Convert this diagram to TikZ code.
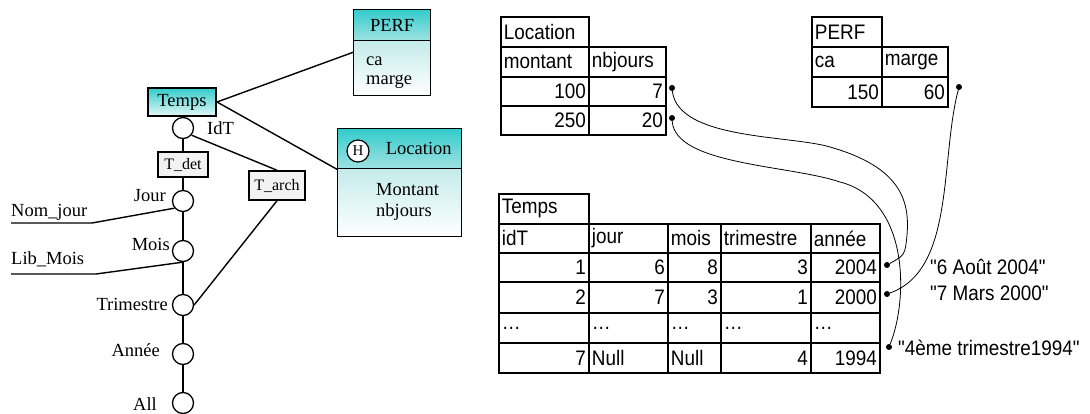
\documentclass[tikz,border=0pt]{standalone}
\usepackage{fontspec}
\setmainfont{Liberation Serif}
\newfontfamily\tabfont[FakeStretch=0.9]{Liberation Sans}
\newcommand\tabtxt{\tabfont\fontsize{21}{22}\selectfont}
\newcommand\lefttxt{\fontsize{18.5}{20}\selectfont}
\newcommand\smalltxt{\fontsize{16}{18}\selectfont}
\definecolor{tealA}{RGB}{51,204,204}
\definecolor{tealB}{RGB}{160,226,226}
\definecolor{tealC}{RGB}{196,235,235}
\definecolor{tealE}{RGB}{228,247,247}
\definecolor{boxgray}{RGB}{242,242,242}
\begin{document}
\begin{tikzpicture}[x=1pt,y=-1pt,
  tcell/.style={draw, line width=1.8pt, anchor=north west, inner xsep=3pt, inner ysep=0pt, minimum height=#1, font=\tabtxt},
  lft/.style={align=left, text width=#1},
  rgt/.style={align=right, text width=#1},
  dotn/.style={circle, fill=black, inner sep=0pt, minimum size=6pt},
  curve/.style={line width=0.8pt},
  ln/.style={line width=1.4pt},
  lev/.style={circle, draw, line width=1.3pt, minimum size=21pt, inner sep=0pt, fill=white},
  gbox/.style={draw, line width=1.5pt, fill=boxgray, inner sep=0pt, font=\smalltxt},
  lbl/.style={inner sep=0pt, font=\lefttxt},
  rlbl/.style={inner sep=0pt, font=\tabtxt, anchor=base west},
  ebox/.style={draw, line width=1.3pt, inner sep=0pt, font=\lefttxt},
]
\useasboundingbox (0,0) rectangle (1090,414);

% ---------------- left diagram ----------------
\node[ebox, line width=2pt, minimum width=68pt, minimum height=28pt, top color=tealA, bottom color=tealE] (temps) at (182,102) {Temps};

\node[ebox, anchor=north west, minimum width=77pt, minimum height=31pt, top color=tealA, bottom color=tealB] (perfh) at (353,9) {PERF};
\node[ebox, anchor=north west, minimum width=77pt, minimum height=55pt, top color=tealC, bottom color=white] (perfb) at (353,40) {};
\node[lbl, anchor=base west] (pca) at (366,66) {ca};
\node[lbl, anchor=base west] (pmarge) at (366,85) {marge};

\node[ebox, anchor=north west, minimum height=40pt, top color=tealA, bottom color=tealB, align=right, text width=104pt, inner xsep=10pt] (loch) at (337,128) {Location};
\node[ebox, anchor=north west, minimum width=124pt, minimum height=68pt, top color=tealC, bottom color=white] (locb) at (337,168) {};
\node[lbl, anchor=base west] (lmont) at (376,196) {Montant};
\node[lbl, anchor=base west] (lnbj) at (376,217) {nbjours};
\node[circle, draw, line width=1.2pt, fill=white, inner sep=0pt, minimum size=22pt, font=\fontsize{15}{16}\selectfont] (hc) at (358,151) {H};

\node[lev] (idt) at (183,128) {};
\node[gbox, minimum width=50pt, minimum height=25pt] (tdet) at (183,164.5) {T\_det};
\node[gbox, minimum width=56pt, minimum height=29pt] (tarch) at (277,185.5) {T\_arch};
\node[lev] (jour) at (183,201) {};
\node[lev] (mois) at (183,251) {};
\node[lev] (tri) at (183,305) {};
\node[lev] (ann) at (183,354) {};
\node[lev] (all) at (183,403) {};

\node[lbl, anchor=base west] (lidt) at (207,135) {IdT};
\node[lbl, anchor=base east] (ljour) at (166,202) {Jour};
\node[lbl, anchor=base east] (lmois) at (170,251) {Mois};
\node[lbl, anchor=base east] (ltri) at (168,310) {Trimestre};
\node[lbl, anchor=base east] (lann) at (160,356) {Année};
\node[lbl, anchor=base east] (lall) at (157,410) {All};
\node[lbl, anchor=base west] (lnj) at (11,217) {Nom\_jour};
\node[lbl, anchor=base west] (llm) at (11,265) {Lib\_Mois};

\coordinate (nj0) at (11,223);
\coordinate (nj1) at (92,223);
\coordinate (lm0) at (11,274);
\coordinate (lm1) at (96,274);

\draw[ln] (temps.east) -- (perfb.158);
\draw[ln] (temps.east) -- (loch.south west);
\draw[ln] (idt.south) -- (tdet.north);
\draw[ln] (idt.-40) -- (tarch.north);
\draw[ln] (tdet.south) -- (jour.north);
\draw[ln] (jour.south) -- (mois.north);
\draw[ln] (mois.south) -- (tri.north);
\draw[ln] (tri.south) -- (ann.north);
\draw[ln] (ann.south) -- (all.north);
\draw[ln] (tarch.south) -- (tri.east);
\draw[ln] (nj0) -- (nj1) -- (jour.-140);
\draw[ln] (lm0) -- (lm1) -- (mois.south);

% ---------------- Location table ----------------
\node[tcell=30pt, lft=82pt] (lh) at (500,16) {Location};
\node[tcell=30pt, lft=82pt] (lc1) at (500,46) {montant};
\node[tcell=30pt, lft=71pt] (lc2) at (588,46) {nbjours};
\node[tcell=29pt, rgt=82pt] (l11) at (500,76) {100};
\node[tcell=29pt, rgt=71pt] (l12) at (588,76) {7};
\node[tcell=29pt, rgt=82pt] (l21) at (500,105) {250};
\node[tcell=29pt, rgt=71pt] (l22) at (588,105) {20};

% ---------------- PERF table ----------------
\node[tcell=30pt, lft=64pt] (ph) at (811,16) {PERF};
\node[tcell=30pt, lft=64pt] (pc1) at (811,46) {ca};
\node[tcell=30pt, lft=60pt] (pc2) at (881,46) {marge};
\node[tcell=30pt, rgt=64pt] (p11) at (811,76) {150};
\node[tcell=30pt, rgt=60pt] (p12) at (881,76) {60};

% ---------------- Temps table ----------------
\node[tcell=30pt, lft=84pt] (th) at (498,193) {Temps};
\node[tcell=29pt, lft=84pt] (tc1) at (498,223) {idT};
\node[tcell=29pt, lft=73pt] (tc2) at (588,223) {jour};
\node[tcell=29pt, lft=47pt] (tc3) at (667,223) {mois};
\node[tcell=29pt, lft=84pt] (tc4) at (720,223) {trimestre};
\node[tcell=29pt, lft=63pt] (tc5) at (810,223) {année};

\node[tcell=29pt, rgt=84pt] (t11) at (498,252) {1};
\node[tcell=29pt, rgt=73pt] (t12) at (588,252) {6};
\node[tcell=29pt, rgt=47pt] (t13) at (667,252) {8};
\node[tcell=29pt, rgt=84pt] (t14) at (720,252) {3};
\node[tcell=29pt, rgt=63pt] (t15) at (810,252) {2004};

\node[tcell=31pt, rgt=84pt] (t21) at (498,281) {2};
\node[tcell=31pt, rgt=73pt] (t22) at (588,281) {7};
\node[tcell=31pt, rgt=47pt] (t23) at (667,281) {3};
\node[tcell=31pt, rgt=84pt] (t24) at (720,281) {1};
\node[tcell=31pt, rgt=63pt] (t25) at (810,281) {2000};

\node[tcell=30pt, lft=84pt] (t31) at (498,312) {…};
\node[tcell=30pt, lft=73pt] (t32) at (588,312) {…};
\node[tcell=30pt, lft=47pt] (t33) at (667,312) {…};
\node[tcell=30pt, lft=84pt] (t34) at (720,312) {…};
\node[tcell=30pt, lft=63pt] (t35) at (810,312) {…};

\node[tcell=30pt, rgt=84pt] (t41) at (498,342) {7};
\node[tcell=30pt, lft=73pt] (t42) at (588,342) {Null};
\node[tcell=30pt, lft=47pt] (t43) at (667,342) {Null};
\node[tcell=30pt, rgt=84pt] (t44) at (720,342) {4};
\node[tcell=30pt, rgt=63pt] (t45) at (810,342) {1994};

% ---------------- dots, curves, labels ----------------
\node[dotn] (dl1) at (672,88) {};
\node[dotn] (dl2) at (672,118) {};
\node[dotn] (dp) at (959,87) {};
\node[dotn] (dt1) at (887,265) {};
\node[dotn] (dt2) at (887,294) {};
\node[dotn] (dt4) at (889,347) {};

\draw[curve] (dl1) .. controls (678,140) and (790,135) .. (830,147) .. controls (900,167) and (910,200) .. (907,235) .. controls (905,255) .. (dt1);
\draw[curve] (dl2) .. controls (675,165) and (790,165) .. (840,182) .. controls (910,200) and (908,300) .. (dt4);
\draw[curve] (dp) .. controls (940,160) and (955,270) .. (dt2);

\node[rlbl] (s1) at (930,275) {"6 Août 2004"};
\node[rlbl] (s2) at (930,301) {"7 Mars 2000"};
\node[rlbl] (s3) at (898,355) {"4ème trimestre1994"};
\end{tikzpicture}
\end{document}
